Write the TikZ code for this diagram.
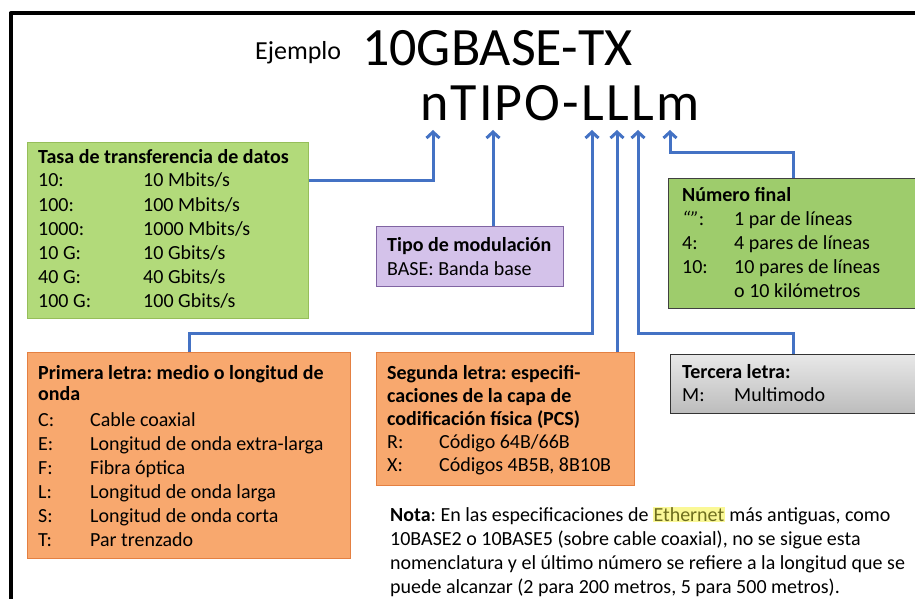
\documentclass[tikz,border=0pt]{standalone}
\usepackage{fontspec}
\setmainfont{Carlito}
\usetikzlibrary{arrows.meta}
\frenchspacing

\definecolor{connblue}{RGB}{68,114,196}
\definecolor{grnedge}{RGB}{150,190,90}
\definecolor{grntop}{RGB}{178,218,122}
\definecolor{grnmid}{RGB}{214,237,178}
\definecolor{purpedge}{RGB}{128,100,162}
\definecolor{purptop}{RGB}{212,194,234}
\definecolor{purpmid}{RGB}{232,222,244}
\definecolor{grndark}{RGB}{158,204,108}
\definecolor{oraedge}{RGB}{228,128,66}
\definecolor{oratop}{RGB}{248,168,110}
\definecolor{oramid}{RGB}{251,198,156}
\definecolor{graytop}{RGB}{232,232,232}
\definecolor{graybot}{RGB}{188,188,188}
\definecolor{hlyellow}{RGB}{250,248,150}
\definecolor{ethtext}{RGB}{110,110,30}

\newcommand{\boxfont}{\fontsize{20}{24}\selectfont}
\newlength{\colw}
\setlength{\colw}{52pt}
\newcommand{\row}[3][\colw]{\makebox[#1][l]{#2}#3}

\tikzset{
  box/.style={rectangle, line width=1.2pt, inner sep=0pt, anchor=north west},
  lightgreen/.style={box, draw=grnedge, top color=grntop, middle color=grnmid, bottom color=grntop},
  purplebox/.style={box, draw=purpedge, top color=purptop, middle color=purpmid, bottom color=purptop},
  darkgreen/.style={box, draw=black!75, fill=grndark},
  orangebox/.style={box, draw=oraedge, top color=oratop, middle color=oramid, bottom color=oratop},
  graybox/.style={box, draw=black!80, top color=graytop, middle color=white!96!black, bottom color=graybot},
  boxtext/.style={anchor=base west, inner sep=0pt, font=\boxfont},
  conn/.style={draw=connblue, line width=3pt, -{Straight Barb[length=6pt,width=13pt]}},
}

\begin{document}
\begin{tikzpicture}[x=1pt, y=-1pt]
\clip (0,0) rectangle (915,599);
\fill[white] (0,0) rectangle (915,599);

% outer frame, open to the right and bottom
\draw[line width=4pt, line join=round] (10.5,620) -- (10.5,13.5) -- (930,13.5);

% heading
\node[anchor=base west, inner sep=0pt, font=\fontsize{26}{30}\selectfont] (ejemplo) at (255,60) {Ejemplo};
\node[anchor=base west, inner sep=0pt, font=\fontsize{54}{60}\selectfont] (sample) at (362,66) {10GBASE-TX};
\node[anchor=base west, inner sep=0pt, font=\fontsize{54}{60}\selectfont\addfontfeature{LetterSpace=4}] (pattern) at (420,121) {nTIPO-LLLm};

% arrow tips under the letters
\coordinate (tipN) at (433,130);
\coordinate (tipI) at (493,130);
\coordinate (tipLa) at (592,130);
\coordinate (tipLb) at (617,130);
\coordinate (tipLc) at (638,130);
\coordinate (tipM) at (670,130);

% boxes
\node[lightgreen, minimum width=281pt, minimum height=176pt] (tasa) at (27,142) {};
\node[purplebox, minimum width=187pt, minimum height=60pt] (modul) at (376,226) {};
\node[darkgreen, minimum width=250pt, minimum height=130pt] (numero) at (668,178) {};
\node[orangebox, minimum width=323pt, minimum height=206pt] (primera) at (27,352) {};
\node[orangebox, minimum width=258pt, minimum height=133pt] (segunda) at (376,352) {};
\node[graybox, minimum width=246pt, minimum height=59pt] (tercera) at (670,354) {};

% box texts
\node[boxtext] (tasatxt) at (38,163) {\begin{tabular}[t]{@{}l@{}}
  \textbf{Tasa de transferencia de datos}\\
  \row[105pt]{10:}{10 Mbits/s}\\
  \row[105pt]{100:}{100 Mbits/s}\\
  \row[105pt]{1000:}{1000 Mbits/s}\\
  \row[105pt]{10 G:}{10 Gbits/s}\\
  \row[105pt]{40 G:}{40 Gbits/s}\\
  \row[105pt]{100 G:}{100 Gbits/s}
\end{tabular}};
\node[boxtext] (modultxt) at (387,251) {\begin{tabular}[t]{@{}l@{}}
  \textbf{Tipo de modulación}\\
  BASE: Banda base
\end{tabular}};
\node[boxtext] (numerotxt) at (682,201) {\begin{tabular}[t]{@{}l@{}}
  \textbf{Número final}\\
  \row{\textit{“”}:}{1 par de líneas}\\
  \row{4:}{4 pares de líneas}\\
  \row{10:}{10 pares de líneas}\\
  \row{}{o 10 kilómetros}
\end{tabular}};
\node[boxtext] (primeratxt) at (38,379) {\begin{tabular}[t]{@{}l@{}}
  \textbf{Primera letra: medio o longitud de}\\[-3pt]
  \textbf{onda}\\[2pt]
  \row{C:}{Cable coaxial}\\
  \row{E:}{Longitud de onda extra-larga}\\
  \row{F:}{Fibra óptica}\\
  \row{L:}{Longitud de onda larga}\\
  \row{S:}{Longitud de onda corta}\\
  \row{T:}{Par trenzado}
\end{tabular}};
\node[boxtext] (segundatxt) at (387,379) {\begin{tabular}[t]{@{}l@{}}
  \textbf{Segunda letra: especifi-}\\[-1pt]
  \textbf{caciones de la capa de}\\[-1pt]
  \textbf{codificación física (PCS)}\\[-1pt]
  \row{R:}{Código 64B/66B}\\[-1pt]
  \row{X:}{Códigos 4B5B, 8B10B}
\end{tabular}};
\node[boxtext] (terceratxt) at (682,378) {\begin{tabular}[t]{@{}l@{}}
  \textbf{Tercera letra:}\\[-1pt]
  \row{M:}{Multimodo}
\end{tabular}};

% note
\node[boxtext] (nota) at (390,521) {\begin{tabular}[t]{@{}l@{}}
  \textbf{Nota}: En las especificaciones de {\fboxsep=0.5pt\colorbox{hlyellow}{\textcolor{ethtext}{Ethernet}}} más antiguas, como\\
  10BASE2 o 10BASE5 (sobre cable coaxial), no se sigue esta\\
  nomenclatura y el último número se refiere a la longitud que se\\
  puede alcanzar (2 para 200 metros, 5 para 500 metros).
\end{tabular}};

% connectors
\draw[conn] ([yshift=50pt]tasa.east) -| (tipN);
\draw[conn] (modul.north -| tipI) -- (tipI);
\draw[conn] (primera.north) -- ++(0,-19) -| (tipLa);
\draw[conn] (segunda.north -| tipLb) -- (tipLb);
\draw[conn] (tercera.north) -- ++(0,-21) -| (tipLc);
\draw[conn] (numero.north) -- ++(0,-26) -| (tipM);
\end{tikzpicture}
\end{document}
